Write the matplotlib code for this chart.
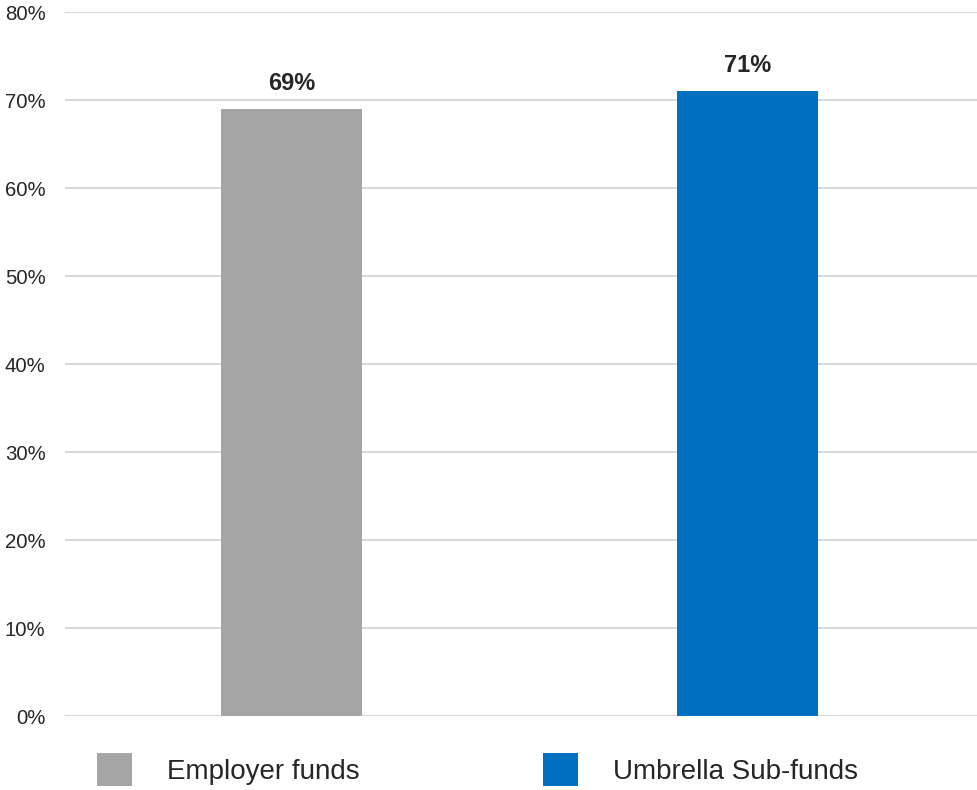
import matplotlib
matplotlib.use("Agg")
import matplotlib.pyplot as plt
from matplotlib.patches import Patch

plt.rcParams['font.family'] = ['Liberation Sans', 'DejaVu Sans']

categories = ["Employer funds", "Umbrella Sub-funds"]
values = [69, 71]
colors = ["#a5a5a5", "#0070c0"]
yticks = [0, 10, 20, 30, 40, 50, 60, 70, 80]
ytick_labels = [f"{t}%" for t in yticks]

text_color = "#262626"

fig = plt.figure(figsize=(9.78, 7.9), dpi=100)
ax = fig.add_axes([65 / 978, 74 / 790, 913 / 978, 704 / 790])

x = list(range(len(categories)))
bars = ax.bar(x, values, width=0.31, color=colors, zorder=2)

for xi, v in zip(x, values):
    ax.annotate(f"{v}%", (xi, v), xytext=(0, 10), textcoords="offset points",
                ha="center", va="bottom", fontsize=17, fontweight="bold",
                color=text_color)

ax.set_xlim(-0.497, 1.505)
ax.set_ylim(0, 80)
ax.set_yticks(yticks)
ax.set_yticklabels(ytick_labels)
ax.set_xticks([])
ax.tick_params(axis="y", length=0, pad=14, labelsize=14.7, labelcolor=text_color)
ax.yaxis.grid(True, color="#d9d9d9", linewidth=1.5, zorder=0)
ax.set_axisbelow(True)
for s in ax.spines.values():
    s.set_visible(False)

handles = [Patch(facecolor=c, edgecolor="none") for c in colors]
fs = 20
ax.legend(handles, categories, loc="center left",
          bbox_to_anchor=(97 / 978, 20.5 / 790), bbox_transform=fig.transFigure,
          ncol=2, frameon=False, fontsize=fs, borderpad=0, borderaxespad=0,
          handlelength=1.26, handleheight=1.5, handletextpad=1.26,
          columnspacing=6.6, labelcolor=text_color)

fig.savefig("out.png", dpi=100)
